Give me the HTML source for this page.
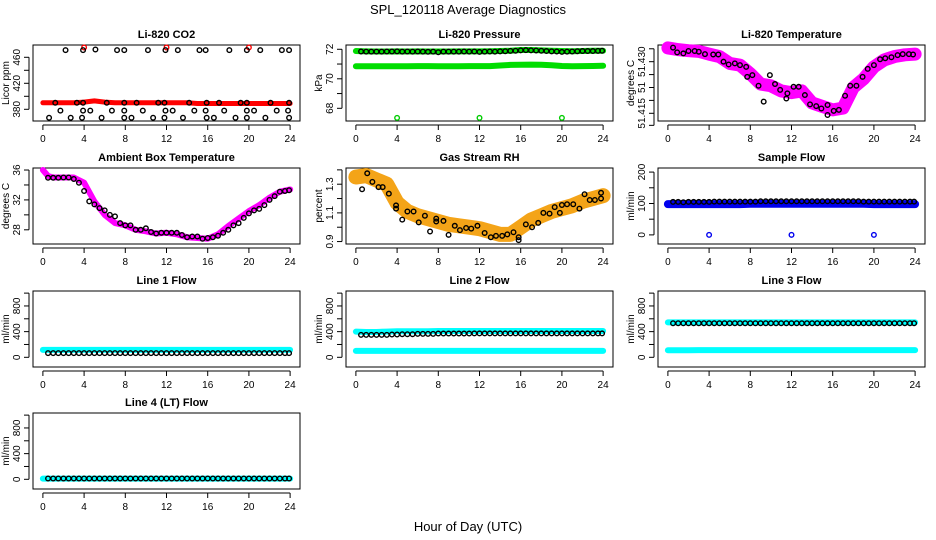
<!DOCTYPE html>
<html><head><meta charset="utf-8"><style>
body{margin:0;background:#fff}
svg{display:block;font-family:"Liberation Sans",Arial,sans-serif}
.t{font-weight:bold;font-size:11px}
.tk{font-size:10px}
</style></head><body>
<svg id="c" width="936" height="540" xmlns="http://www.w3.org/2000/svg">
<text x="468" y="14" text-anchor="middle" font-size="13">SPL_120118  Average Diagnostics</text>
<text x="468" y="531" text-anchor="middle" font-size="13">Hour of Day (UTC)</text>
</svg>
<script>
// ---- data ----
const hourTicks=[0,4,8,12,16,20,24];
const hourly=[0,1,2,3,4,5,6,7,8,9,10,11,12,13,14,15,16,17,18,19,20,21,22,23,24];
const halfHours=[0.5,1,1.5,2,2.5,3,3.5,4,4.5,5,5.5,6,6.5,7,7.5,8,8.5,9,9.5,10,10.5,11,11.5,12,12.5,13,13.5,14,14.5,15,15.5,16,16.5,17,17.5,18,18.5,19,19.5,20,20.5,21,21.5,22,22.5,23,23.5,23.9];
// CO2
const co2Band=[390,390,390,390,391,393,391,390,390,390,390,390,390,390,390,389,389,389,389,389,389,389,389,389,389];
const co2BlackH=[2.2,3.9,5.1,7.2,7.9,10.2,11.9,13.1,15.2,15.8,18.1,19.8,21.1,23.2,23.9, 1.2,3.3,3.9,6.2,7.9,9.1,11.2,11.8,14.2,15.9,17.1,19.2,19.8,22.1,23.9, 1.7,3.9,4.6,6.7,7.9,9.7,11.9,12.6,14.7,15.8,17.6,19.8,20.5,22.7,23.8, 0.6,2.7,3.8,5.7,7.9,8.6,10.7,11.8,13.6,15.9,16.6,18.7,19.8,21.6,23.9];
const co2BlackV=[471,471,472,471,471,471,471,471,471,471,471,471,471,471,471, 390,390,390,390,390,390,390,390,390,390,390,390,390,390,390, 378,378,378,378,378,378,378,378,378,378,378,378,378,378,378, 367,367,367,367,367,367,367,367,367,367,367,367,367,367,367];
const co2OutH=[4,12,20];
const co2OutV=[475,475,475];
// Pressure
const presUpper=[71.88,71.86,71.85,71.85,71.86,71.85,71.86,71.85,71.85,71.85,71.86,71.86,71.86,71.87,71.88,71.9,71.95,71.95,71.93,71.9,71.88,71.87,71.88,71.9,71.9];
const presLower=[70.85,70.85,70.85,70.85,70.85,70.85,70.86,70.86,70.85,70.85,70.85,70.86,70.86,70.86,70.9,70.94,70.95,70.96,70.95,70.92,70.87,70.85,70.86,70.87,70.88];
const presBlack=[71.85,71.84,71.84,71.84,71.84,71.85,71.85,71.86,71.84,71.85,71.84,71.85,71.84,71.83,71.84,71.80,71.84,71.84,71.84,71.84,71.85,71.84,71.85,71.82,71.84,71.85,71.84,71.86,71.87,71.89,71.9,71.93,71.94,71.93,71.92,71.9,71.88,71.86,71.85,71.82,71.84,71.85,71.87,71.88,71.88,71.88,71.89,71.9];
const presOutH=[4,12,20];
const presOutV=[67.35,67.35,67.35];
// Li-820 temperature
const tempBand=[51.4340,51.4335,51.4332,51.4330,51.4322,51.4315,51.4295,51.4290,51.4265,51.4235,51.4230,51.4215,51.4210,51.4215,51.4180,51.4170,51.4160,51.4165,51.4225,51.4250,51.4285,51.4305,51.4315,51.4320,51.4322];
const tempBlackH=[0.5,0.9,1.5,2.0,2.6,3.0,3.6,4.4,4.9,5.4,5.9,6.5,7.0,7.6,7.7,8.2,8.8,9.3,9.9,10.4,10.9,11.5,11.6,12.2,12.7,13.3,13.8,14.4,14.9,15.5,15.5,16.1,16.6,17.2,17.7,18.3,18.9,19.4,20.0,20.6,21.1,21.7,22.3,22.8,23.4,23.8];
const tempBlackV=[51.4341,51.4327,51.4324,51.4331,51.4331,51.4329,51.4322,51.4321,51.4321,51.4300,51.4292,51.4295,51.4290,51.4285,51.4256,51.4261,51.4230,51.4184,51.4261,51.4235,51.4218,51.4193,51.4208,51.4227,51.4227,51.4203,51.4176,51.4171,51.4164,51.4174,51.4145,51.4157,51.4160,51.4201,51.4230,51.4230,51.4256,51.4279,51.4290,51.4307,51.4310,51.4313,51.4319,51.4322,51.4322,51.4321];
// Ambient box temperature
const ambBand=[36,35.0,35.0,35.0,34.3,31.8,30.0,28.9,28.6,28.0,27.8,27.5,27.6,27.4,27.0,26.9,26.8,27.4,28.5,29.5,30.5,31.3,32.3,33.1,33.4];
const ambBlack=[34.96,34.96,34.96,35.0,35.0,34.8,34.3,33.2,31.8,31.4,30.9,30.6,30.0,29.8,28.9,28.6,28.6,28.0,28.0,28.2,27.7,27.5,27.6,27.6,27.6,27.6,27.3,27.0,27.1,27.1,26.8,26.9,27.0,27.2,27.6,28.0,28.6,28.9,29.6,30.2,30.6,30.8,31.3,32.0,32.5,33.1,33.2,33.3];
// RH
const rhBand=[1.35,1.36,1.33,1.30,1.17,1.11,1.08,1.06,1.04,1.02,1.01,1.00,0.99,0.97,0.95,0.95,1.00,1.05,1.08,1.11,1.13,1.15,1.18,1.20,1.22];
const rhBlackH=[0.6,1.1,1.6,2.2,2.6,3.2,3.9,3.9,4.5,5.0,5.6,6.1,6.7,7.2,7.8,7.8,8.5,9.0,9.6,10.1,10.7,11.2,11.8,12.5,13.1,13.6,14.2,14.7,15.3,15.8,15.8,16.5,17.1,17.7,18.2,18.8,19.3,19.8,20.0,20.5,21.1,21.7,22.2,22.7,23.2,23.8,23.8];
const rhBlackV=[1.265,1.376,1.316,1.28,1.28,1.234,1.152,1.13,1.053,1.11,1.11,1.034,1.08,0.97,1.06,1.04,1.044,0.947,1.01,0.98,0.995,0.99,1.01,0.96,0.93,0.94,0.94,0.95,0.965,0.93,0.91,1.02,1.0,1.03,1.1,1.095,1.14,1.10,1.155,1.16,1.16,1.13,1.23,1.19,1.19,1.2,1.24];
// Sample flow
const sampBand=[98,98,98,98,98,98,98,98,99,99,99,99,99,99,99,99,99,99,99,99,98,98,98,98,98];
const sampBlack=[105,105,104,105,105,105,105,105,106,106,106,106,106,106,106,106,106,107,107,107,107,107,107,107,107,107,107,107,107,107,107,107,107,107,107,107,107,106,106,106,106,106,106,106,106,106,106,106];
const sampOutH=[4,12,20];
const sampOutV=[0,0,0];
// Line flows
const l1Band=[115,115,115,115,115,115,115,115,115,115,115,115,115,115,115,115,115,115,115,115,115,115,115,115,115];
const l1Black=Array.from({length:48},()=>65);
const l2Upper=[400,395,395,400,405,405,405,405,410,410,410,410,410,410,410,410,410,410,410,410,410,410,410,410,410];
const l2Lower=[100,100,100,100,100,100,100,100,100,100,100,100,100,100,100,100,100,100,100,100,100,100,100,100,100];
const l2Black=[350,350,350,350,350,350,355,355,360,360,360,365,365,365,365,370,370,370,370,370,370,370,372,372,372,372,372,372,372,372,372,372,372,372,372,372,372,372,372,372,372,372,372,372,372,372,372,372];
const l3Upper=[545,545,545,545,545,545,545,545,545,545,545,545,545,545,545,545,545,545,545,545,545,545,545,545,545];
const l3Lower=[110,110,110,112,112,112,112,112,112,112,112,112,112,112,112,112,112,112,112,112,112,112,112,112,112];
const l3Black=Array.from({length:48},()=>530);
const l4Band=[10,10,10,10,10,10,10,10,10,10,10,10,10,10,10,10,10,10,10,10,10,10,10,10,10];
const l4Black=Array.from({length:48},()=>12);

// ---- drawing ----
const NS="http://www.w3.org/2000/svg";
const svg=document.getElementById('c');
const colLeft=[33,346,658], rowTop=[45,168,291,413], PW=267, PH=76;
function mk(tag,attrs,parent){const e=document.createElementNS(NS,tag);for(const k in attrs)e.setAttribute(k,attrs[k]);(parent||svg).appendChild(e);return e;}

function panel(col,row,name,title,ylab,ymin,ymax,yticks,ylabels){
  const L=colLeft[col],T=rowTop[row];
  const g=mk('g',{});
  
  
  const x=h=>L+(h+0.96)/25.92*PW;
  const y=v=>T+PH-(v-ymin)/(ymax-ymin)*PH;
  const box=mk('rect',{x:L,y:T,width:PW,height:PH,fill:'none',stroke:'#000','stroke-width':1},g);
  
  
  const tt=mk('text',{x:L+PW/2,y:T-7,'text-anchor':'middle',class:'t'},g);tt.textContent=title;
  
  
  // x axis
  const xa=mk('g',{},g);
  
  
  const by=T+PH+4;
  mk('line',{x1:x(hourTicks[0]),x2:x(hourTicks[hourTicks.length-1]),y1:by,y2:by,stroke:'#000'},xa);
  hourTicks.forEach(h=>{mk('line',{x1:x(h),x2:x(h),y1:by,y2:by+5,stroke:'#000'},xa);
    if(row!==3){const t=mk('text',{x:x(h),y:by+17,'text-anchor':'middle',class:'tk'},xa);t.textContent=h;}});
  // y axis
  const ya=mk('g',{},g);
  
  
  const ax=L-4;
  mk('line',{x1:ax,x2:ax,y1:y(yticks[0]),y2:y(yticks[yticks.length-1]),stroke:'#000'},ya);
  yticks.forEach((v,i)=>{mk('line',{x1:ax-5,x2:ax,y1:y(v),y2:y(v),stroke:'#000'},ya);
    if(ylabels[i]){const t=mk('text',{x:0,y:0,'text-anchor':'middle',class:'tk',transform:`translate(${ax-9},${y(v)}) rotate(-90)`},ya);t.textContent=ylabels[i];}});
  const yl=mk('text',{x:0,y:0,'text-anchor':'middle',class:'tk',transform:`translate(${L-24},${T+PH/2}) rotate(-90)`},g);yl.textContent=ylab;
  
  
  const clip=mk('g',{},g);
  return {x,y,g:clip};
}
function band(p,hs,vs,color,w,name){
  const pl=mk('polyline',{points:hs.map((h,i)=>p.x(h)+','+p.y(vs[i])).join(' '),fill:'none',stroke:color,'stroke-width':w,'stroke-linejoin':'round','stroke-linecap':'round'},p.g);
  
  
}
function pts(p,hs,vs,color,name,r){
  const gg=mk('g',{},p.g);
  
  
  hs.forEach((h,i)=>mk('circle',{cx:p.x(h),cy:p.y(vs[i]),r:r||2.3,fill:'none',stroke:color,'stroke-width':1.4},gg));
}

let p;
p=panel(0,0,'co2','Li-820 CO2','Licor ppm',362,478.9,[380,400,420,440,460],['380','','420','','460']);
band(p,hourly,co2Band,'#ff0000',5,'co2-band');
pts(p,co2OutH,co2OutV,'#ff0000','co2-outliers');
pts(p,co2BlackH,co2BlackV,'#000','co2-points');

p=panel(1,0,'pressure','Li-820 Pressure','kPa',67.14,72.29,[68,69,70,71,72],['68','','70','','72']);
band(p,hourly,presUpper,'#00dd00',6,'pressure-upper-band');
band(p,hourly,presLower,'#00dd00',6,'pressure-lower-band');
pts(p,presOutH,presOutV,'#00cc00','pressure-outliers');
pts(p,halfHours,presBlack,'#000','pressure-points');

p=panel(2,0,'li820-temp','Li-820 Temperature','degrees C',51.41276,51.43485,[51.4115,51.415,51.41875,51.4225,51.42625,51.43,51.43375],['','51.415','','51','','51.430','']);
band(p,hourly,tempBand,'#ff00ff',13,'temp-band');
pts(p,tempBlackH,tempBlackV,'#000','temp-points');

p=panel(0,1,'ambient','Ambient Box Temperature','degrees C',26.1,36.27,[28,30,32,34,36],['28','','32','','36']);
band(p,[0,0.5].concat(hourly.slice(1)),[36].concat(ambBand.slice(1).length?[35.2]:[]).concat(ambBand.slice(1)),'#ff00ff',6,'ambient-band');
pts(p,halfHours,ambBlack,'#000','ambient-points');

p=panel(1,1,'rh','Gas Stream RH','percent',0.883,1.413,[0.9,1.0,1.1,1.2,1.3,1.4],['0.9','','1.1','','1.3','']);
band(p,hourly,rhBand,'#f4a418',15,'rh-band');
pts(p,rhBlackH,rhBlackV,'#000','rh-points');

p=panel(2,1,'sample-flow','Sample Flow','ml/min',-29,213,[0,50,100,150,200],['0','','100','','200']);
band(p,hourly,sampBand,'#0000ee',8,'sample-band');
pts(p,sampOutH,sampOutV,'#0000ee','sample-outliers');
pts(p,halfHours,sampBlack,'#000','sample-points');

const flowTicks=[0,200,400,600,800,1000], flowLabels=['0','','400','','800',''];
p=panel(0,2,'line1','Line 1 Flow','ml/min',-151,1033,flowTicks,flowLabels);
band(p,hourly,l1Band,'#00ffff',6,'line1-band');
pts(p,halfHours,l1Black,'#000','line1-points');

p=panel(1,2,'line2','Line 2 Flow','ml/min',-151,1033,flowTicks,flowLabels);
band(p,hourly,l2Upper,'#00ffff',6,'line2-upper-band');
band(p,hourly,l2Lower,'#00ffff',6,'line2-lower-band');
pts(p,halfHours,l2Black,'#000','line2-points');

p=panel(2,2,'line3','Line 3 Flow','ml/min',-151,1033,flowTicks,flowLabels);
band(p,hourly,l3Upper,'#00ffff',6,'line3-upper-band');
band(p,hourly,l3Lower,'#00ffff',6,'line3-lower-band');
pts(p,halfHours,l3Black,'#000','line3-points');

p=panel(0,3,'line4','Line 4 (LT) Flow','ml/min',-151,1033,flowTicks,flowLabels);
band(p,hourly,l4Band,'#00ffff',6,'line4-band');
pts(p,halfHours,l4Black,'#000','line4-points');
// last row x tick labels
[0,4,8,12,16,20,24].forEach(h=>{const t=mk('text',{x:colLeft[0]+(h+0.96)/25.92*PW,y:rowTop[3]+PH+21,'text-anchor':'middle',class:'tk'});t.textContent=h;

});
</script>
</body></html>
